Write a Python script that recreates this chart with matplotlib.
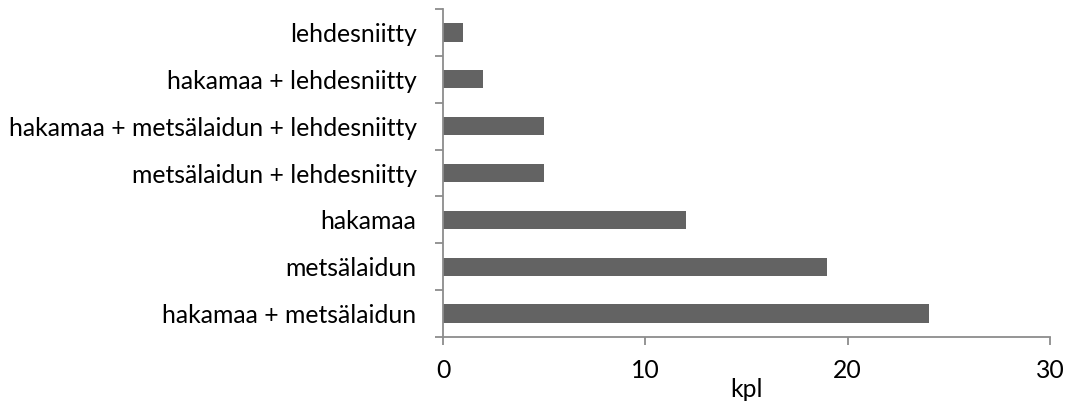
import matplotlib
matplotlib.use('Agg')
import matplotlib.pyplot as plt
import numpy as np

categories = ['hakamaa + metsälaidun', 'metsälaidun', 'hakamaa',
              'metsälaidun + lehdesniitty', 'hakamaa + metsälaidun + lehdesniitty',
              'hakamaa + lehdesniitty', 'lehdesniitty']
counts = [24, 19, 12, 5, 5, 2, 1]
xticks = [0, 10, 20, 30]

plt.rcParams['font.family'] = ['Lato', 'DejaVu Sans']
fs = 17.8

fig = plt.figure(figsize=(10.67, 4.07), dpi=100)
ax = fig.add_axes([443 / 1067, 1 - 337 / 407, (1050 - 443) / 1067, (337 - 9) / 407])

y = np.arange(len(categories))
ax.barh(y, counts, height=0.39, color='#636363')

ax.set_xlim(0, 30)
ax.set_ylim(-0.5, len(categories) - 0.5)
ax.set_xticks(xticks)
ax.set_xticklabels([str(t) for t in xticks], fontsize=fs)
ax.set_yticks(y)
ax.set_yticklabels(categories, fontsize=fs)
ax.set_yticks(np.arange(len(categories) + 1) - 0.5, minor=True)
ax.tick_params(axis='y', which='major', length=0, pad=19)
ax.tick_params(axis='y', which='minor', length=5.5, width=1.3, color='#8c8c8c', direction='out')
ax.tick_params(axis='x', length=5.5, width=1.3, color='#8c8c8c', direction='out', pad=10)
ax.set_xlabel('kpl', fontsize=fs)
ax.xaxis.set_label_coords((747 - 443) / (1050 - 443), -0.125)

for s in ['top', 'right']:
    ax.spines[s].set_visible(False)
for s in ['left', 'bottom']:
    ax.spines[s].set_color('#8c8c8c')
    ax.spines[s].set_linewidth(1.3)

fig.savefig('out.png', dpi=100)
